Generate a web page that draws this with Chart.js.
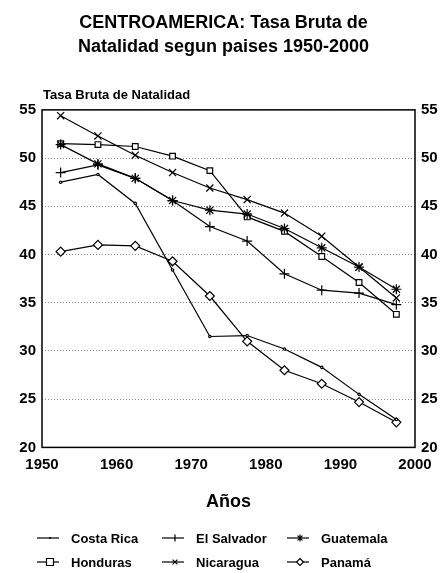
<!DOCTYPE html>
<html lang="es">
<head>
<meta charset="UTF-8">
<title>Centroamerica: Tasa Bruta de Natalidad</title>
<script src="https://cdn.jsdelivr.net/npm/chart.js"></script>
<style>
  html, body { margin: 0; padding: 0; background: #fff; }
  #wrap { width: 447px; height: 573px; }
</style>
</head>
<body>
<div id="wrap"><canvas id="chart" width="447" height="573"></canvas></div>
<script>
// --- datos (quinquenios 1950-55 ... 1995-2000)
const years = [1952.5, 1957.5, 1962.5, 1967.5, 1972.5, 1977.5, 1982.5, 1987.5, 1992.5, 1997.5];
const costaRica  = [47.5, 48.3, 45.3, 38.4, 31.5, 31.6, 30.2, 28.3, 25.5, 22.9];
const elSalvador = [48.5, 49.3, 47.9, 45.6, 42.9, 41.4, 38.0, 36.3, 36.0, 34.8];
const guatemala  = [51.4, 49.4, 47.9, 45.6, 44.6, 44.2, 42.7, 40.7, 38.7, 36.4];
const honduras   = [51.5, 51.4, 51.2, 50.2, 48.7, 43.9, 42.4, 39.8, 37.1, 33.8];
const nicaragua  = [54.4, 52.3, 50.3, 48.5, 46.9, 45.7, 44.3, 41.9, 38.7, 35.5];
const panama     = [40.3, 41.0, 40.9, 39.3, 35.7, 31.0, 28.0, 26.6, 24.7, 22.6];

const xTicks = [1950, 1960, 1970, 1980, 1990, 2000];
const yTicks = [20, 25, 30, 35, 40, 45, 50, 55];

const FONT = '"Liberation Sans", Arial, Helvetica, sans-serif';

function pts(arr) {
  return arr.map((v, i) => ({ x: years[i], y: v }));
}

function serie(label, arr, style, radius) {
  return {
    label: label,
    data: pts(arr),
    borderColor: '#000',
    borderWidth: 1.2,
    backgroundColor: '#fff',
    pointStyle: style,
    pointRadius: radius,
    pointHoverRadius: radius,
    pointBackgroundColor: '#fff',
    pointBorderColor: '#000',
    pointBorderWidth: 1.2,
    tension: 0
  };
}

// --- marco del grafico
const framePlugin = {
  id: 'frame',
  afterDraw(chart) {
    const { ctx, chartArea: a } = chart;
    ctx.save();
    ctx.strokeStyle = '#000';
    ctx.lineWidth = 1.5;
    ctx.strokeRect(a.left, a.top, a.right - a.left, a.bottom - a.top);
    // titulo del eje y, horizontal encima del grafico
    ctx.fillStyle = '#000';
    ctx.font = 'bold 13px ' + FONT;
    ctx.textAlign = 'left';
    ctx.textBaseline = 'middle';
    ctx.fillText('Tasa Bruta de Natalidad', a.left + 1, a.top - 14);
    ctx.restore();
  }
};

// --- leyenda en 3 columnas x 2 filas
function drawMark(ctx, style, x, y, r) {
  ctx.beginPath();
  if (style === 'rect') {
    ctx.rect(x - r, y - r, 2 * r, 2 * r);
    ctx.fill(); ctx.stroke();
  } else if (style === 'rectRot') {
    ctx.moveTo(x, y - r); ctx.lineTo(x + r, y); ctx.lineTo(x, y + r); ctx.lineTo(x - r, y); ctx.closePath();
    ctx.fill(); ctx.stroke();
  } else if (style === 'cross') {
    ctx.moveTo(x, y - r); ctx.lineTo(x, y + r);
    ctx.stroke();
  } else if (style === 'crossRot') {
    const d = r * 0.7;
    ctx.moveTo(x - d, y - d); ctx.lineTo(x + d, y + d);
    ctx.moveTo(x - d, y + d); ctx.lineTo(x + d, y - d);
    ctx.stroke();
  } else if (style === 'star') {
    const d = r * 0.7;
    ctx.moveTo(x, y - r); ctx.lineTo(x, y + r);
    ctx.moveTo(x - d, y - d); ctx.lineTo(x + d, y + d);
    ctx.moveTo(x - d, y + d); ctx.lineTo(x + d, y - d);
    ctx.stroke();
  } else {
    ctx.arc(x, y, r, 0, Math.PI * 2);
    ctx.fill();
  }
}

const legendPlugin = {
  id: 'legendGrid',
  afterDraw(chart) {
    const ctx = chart.ctx;
    const colX = [37, 162, 287];
    const rowY = [538, 562];
    ctx.save();
    ctx.lineWidth = 1.2;
    chart.data.datasets.forEach((ds, i) => {
      const x = colX[i % 3];
      const y = rowY[Math.floor(i / 3)];
      ctx.strokeStyle = '#000';
      ctx.beginPath();
      ctx.moveTo(x, y); ctx.lineTo(x + 22, y);
      ctx.stroke();
      ctx.fillStyle = ds.pointStyle === 'circle' ? '#000' : '#fff';
      drawMark(ctx, ds.pointStyle, x + 13, y, ds.pointStyle === 'circle' ? 1 : 3.5);
      ctx.fillStyle = '#000';
      ctx.font = 'bold 13px ' + FONT;
      ctx.textAlign = 'left';
      ctx.textBaseline = 'middle';
      ctx.fillText(ds.label, x + 34, y + 1);
    });
    ctx.restore();
  }
};

const ctx = document.getElementById('chart').getContext('2d');
const chart = new Chart(ctx, {
  type: 'line',
  data: {
    datasets: [
      serie('Costa Rica', costaRica, 'circle', 1.2),
      serie('El Salvador', elSalvador, 'cross', 5),
      serie('Guatemala', guatemala, 'star', 5),
      serie('Honduras', honduras, 'rect', 4),
      serie('Nicaragua', nicaragua, 'crossRot', 5),
      serie('Panamá', panama, 'rectRot', 4.5)
    ]
  },
  options: {
    responsive: false,
    animation: false,
    layout: { padding: { left: 0, right: 0, top: 0, bottom: 60 } },
    plugins: {
      legend: { display: false },
      tooltip: { enabled: false },
      title: {
        display: true,
        text: ['CENTROAMERICA: Tasa Bruta de', 'Natalidad segun paises 1950-2000'],
        color: '#000',
        font: { family: FONT, size: 18, weight: 'bold', lineHeight: 1.33 },
        padding: { top: 11, bottom: 51 }
      }
    },
    scales: {
      x: {
        type: 'linear',
        min: 1950,
        max: 2000,
        afterBuildTicks: s => { s.ticks = xTicks.map(v => ({ value: v })); },
        ticks: {
          color: '#000',
          font: { family: FONT, size: 15, weight: 'bold' },
          padding: 8,
          maxRotation: 0,
          callback: v => String(v)
        },
        grid: { display: false, drawTicks: false },
        border: { display: false },
        title: {
          display: true,
          text: 'Años',
          color: '#000',
          font: { family: FONT, size: 18, weight: 'bold' },
          padding: { top: 10, bottom: 0 }
        }
      },
      y: {
        position: 'left',
        min: 20,
        max: 55,
        afterBuildTicks: s => { s.ticks = yTicks.map(v => ({ value: v })); },
        afterFit: s => { s.width = 42; },
        ticks: {
          color: '#000',
          font: { family: FONT, size: 15, weight: 'bold' },
          padding: 6
        },
        grid: { color: '#888', lineWidth: 1, drawTicks: false },
        border: { display: false, dash: [1, 2] }
      },
      y2: {
        position: 'right',
        min: 20,
        max: 55,
        afterBuildTicks: s => { s.ticks = yTicks.map(v => ({ value: v })); },
        afterFit: s => { s.width = 32; },
        ticks: {
          color: '#000',
          font: { family: FONT, size: 15, weight: 'bold' },
          padding: 6
        },
        grid: { drawOnChartArea: false, drawTicks: false },
        border: { display: false }
      }
    }
  },
  plugins: [framePlugin, legendPlugin]
});
</script>
</body>
</html>
